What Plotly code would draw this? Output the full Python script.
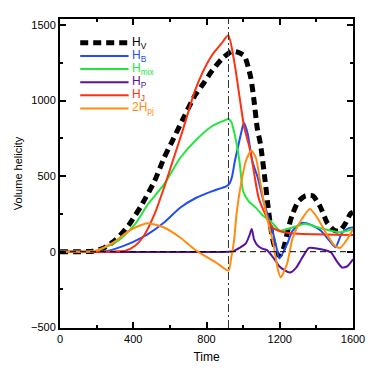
import plotly.graph_objects as go

# time samples and curves
hv_t = [0, 100, 180, 240, 305, 375, 446, 516, 568, 621, 674, 735, 790, 832, 884, 937, 970, 1007, 1042,
        1060, 1077, 1095, 1120, 1140, 1160, 1185, 1200, 1220, 1250, 1270, 1300, 1340, 1380, 1420, 1460,
        1500, 1530, 1560, 1585, 1600]
hv_y = [0, 0, 3, 25, 80, 175, 310, 467, 620, 752, 884, 1030, 1125, 1200, 1276, 1325, 1320, 1295, 1150,
        995, 818, 710, 470, 260, 90, -15, -25, 20, 170, 250, 330, 370, 370, 300, 190,
        140, 140, 190, 250, 260]

hb_t = [0, 200, 260, 305, 400, 480, 568, 656, 744, 832, 910, 925, 940, 955, 975, 1000, 1005, 1025, 1050,
        1080, 1110, 1160, 1180, 1198, 1240, 1270, 1320, 1375, 1425, 1480, 1505, 1540, 1580, 1600]
hb_y = [0, 0, 5, 20, 65, 116, 193, 291, 357, 401, 434, 450, 500, 600, 710, 840, 851, 780, 600,
        490, 340, 140, 40, -45, 50, 138, 190, 175, 138, 60, 30, 125, 158, 160]

hmix_t = [0, 150, 200, 240, 320, 410, 480, 568, 656, 744, 832, 901, 918, 935, 955, 980, 1000, 1030,
          1070, 1110, 1160, 1200, 1270, 1340, 1410, 1480, 1530, 1600]
hmix_y = [0, 0, 5, 25, 75, 182, 314, 445, 620, 741, 832, 870, 878, 860, 770, 600, 400, 335,
          290, 237, 190, 140, 160, 185, 160, 138, 128, 150]

hp_t = [0, 920, 950, 980, 1015, 1035, 1047, 1060, 1080, 1105, 1130, 1165, 1200, 1255, 1290, 1320, 1360,
        1410, 1450, 1480, 1510, 1540, 1570, 1600]
hp_y = [0, 0, 5, 25, 55, 110, 150, 80, 40, 20, 10, -40, -100, -138, -105, -45, 25,
        20, 10, -5, -60, -105, -95, -50]

hj_t = [0, 250, 300, 358, 410, 463, 516, 568, 621, 674, 735, 780, 830, 880, 919, 954, 981, 1005, 1040,
        1085, 1130, 1160, 1190, 1240, 1300, 1400, 1500, 1600]
hj_y = [0, 0, 2, 7, 39, 116, 248, 423, 620, 818, 1059, 1190, 1300, 1375, 1432, 1240, 1020, 830, 664,
        355, 225, 160, 140, 125, 118, 115, 112, 110]

hpj_t = [0, 150, 200, 260, 305, 350, 410, 480, 568, 656, 744, 850, 920, 935, 950, 965, 990, 1015, 1045,
         1070, 1095, 1130, 1165, 1190, 1205, 1240, 1270, 1315, 1365, 1410, 1455, 1500, 1530, 1570, 1600]
hpj_y = [0, 0, 8, 40, 72, 115, 160, 189, 160, 94, 7, -70, -125, -40, 70, 260, 460, 600, 670,
         620, 450, 225, 55, -120, -170, -80, 90, 205, 283, 215, 118, 40, 25, 85, 150]

t_ref = 920

series = [
    ("H<sub>V</sub>", hv_t, hv_y, "#000000"),
    ("H<sub>B</sub>", hb_t, hb_y, "#1f4cff"),
    ("H<sub>mix</sub>", hmix_t, hmix_y, "#22e63a"),
    ("H<sub>P</sub>", hp_t, hp_y, "#5a10a0"),
    ("H<sub>J</sub>", hj_t, hj_y, "#ff3010"),
    ("2H<sub>pj</sub>", hpj_t, hpj_y, "#ff8c10"),
]

fig = go.Figure()

# reference lines
fig.add_hline(y=0, line=dict(color="black", width=1, dash="6px,4px"))
fig.add_vline(x=t_ref, line=dict(color="#333333", width=1, dash="8px,3px,2px,3px"))

for i, (name, t, y, col) in enumerate(series):
    if i == 0:
        ln = dict(color=col, width=5, dash="8px,5px", shape="spline", smoothing=0.6)
    else:
        ln = dict(color=col, width=2, shape="spline", smoothing=0.6)
    fig.add_trace(go.Scatter(x=t, y=y, mode="lines", line=ln, name=name, showlegend=False))

# legend drawn by hand, IDL style
for i, (name, t, y, col) in enumerate(series):
    yy = 0.923 - i * 0.0425
    dash = "8px,5px" if i == 0 else "solid"
    w = 5 if i == 0 else 2
    fig.add_shape(type="line", xref="paper", yref="paper", x0=0.069, x1=0.234, y0=yy, y1=yy,
                  line=dict(color=col, width=w, dash=dash))
    fig.add_annotation(text=name, xref="paper", yref="paper", x=0.243, y=yy, xanchor="left",
                       yanchor="middle", showarrow=False, borderpad=0,
                       font=dict(color=col, size=12))

axis = dict(showline=True, linecolor="black", linewidth=2, mirror="ticks", ticks="inside",
            ticklen=6, tickwidth=1.5, tickcolor="black", showgrid=False, zeroline=False,
            tickfont=dict(size=11, color="black"))

# page has an 8px body margin, so the figure is 366 px to fill the 374 px window
fig.update_layout(
    width=366, height=366,
    margin=dict(l=44, r=18, t=9, b=46),
    plot_bgcolor="white", paper_bgcolor="white",
    font=dict(family="Liberation Sans, Arial", color="black"),
    xaxis=dict(axis, range=[0, 1600], tickvals=[0, 400, 800, 1200, 1600],
               minor=dict(tickvals=[200, 600, 1000, 1400], ticklen=3, tickcolor="black", ticks="inside"),
               title=dict(text="Time", font=dict(size=12), standoff=8)),
    yaxis=dict(axis, range=[-505, 1540], tickvals=[-500, 0, 500, 1000, 1500],
               minor=dict(tickvals=[-250, 250, 750, 1250], ticklen=3, tickcolor="black", ticks="inside"),
               title=dict(text="Volume helicity", font=dict(size=11), standoff=6)),
)

fig.write_html("out.html")
